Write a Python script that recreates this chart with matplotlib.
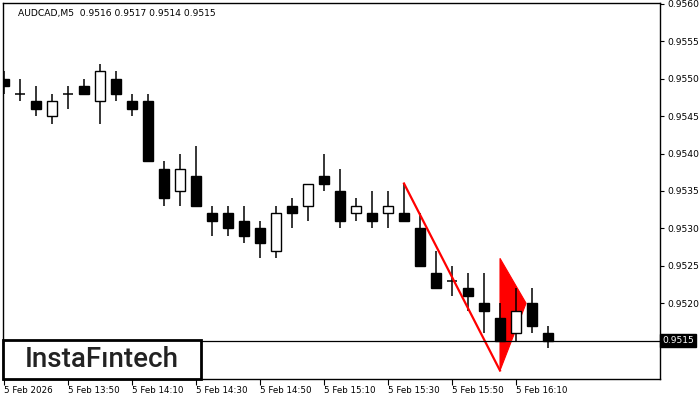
import matplotlib
matplotlib.use('Agg')
import matplotlib.pyplot as plt
from matplotlib.patches import Rectangle, Polygon

# AUDCAD M5 candles, 5 Feb 13:30 .. 16:20
opens = [0.9550, 0.9548, 0.9547, 0.9545, 0.9548, 0.9549, 0.9547, 0.9550, 0.9547, 0.9547,
         0.9538, 0.9535, 0.9537, 0.9532, 0.9532, 0.9531, 0.9530, 0.9527, 0.9533, 0.9533,
         0.9537, 0.9535, 0.9532, 0.9532, 0.9532, 0.9532, 0.9530, 0.9524, 0.9523, 0.9522,
         0.9520, 0.9518, 0.9516, 0.9520, 0.9516]
highs = [0.9551, 0.9550, 0.9549, 0.9548, 0.9549, 0.9550, 0.9552, 0.9551, 0.9548, 0.9548,
         0.9539, 0.9540, 0.9541, 0.9533, 0.9533, 0.9533, 0.9531, 0.9533, 0.9534, 0.9536,
         0.9540, 0.9538, 0.9534, 0.9535, 0.9535, 0.9536, 0.9532, 0.9527, 0.9525, 0.9524,
         0.9524, 0.9520, 0.9522, 0.9522, 0.9517]
lows = [0.9548, 0.9547, 0.9545, 0.9544, 0.9546, 0.9548, 0.9544, 0.9547, 0.9545, 0.9539,
        0.9533, 0.9533, 0.9533, 0.9529, 0.9529, 0.9528, 0.9526, 0.9526, 0.9530, 0.9531,
        0.9535, 0.9530, 0.9531, 0.9530, 0.9530, 0.9531, 0.9525, 0.9522, 0.9521, 0.9519,
        0.9516, 0.9515, 0.9515, 0.9516, 0.9514]
closes = [0.9549, 0.9548, 0.9546, 0.9547, 0.9548, 0.9548, 0.9551, 0.9548, 0.9546, 0.9539,
          0.9534, 0.9538, 0.9533, 0.9531, 0.9530, 0.9529, 0.9528, 0.9532, 0.9532, 0.9536,
          0.9536, 0.9531, 0.9533, 0.9531, 0.9533, 0.9531, 0.9525, 0.9522, 0.9523, 0.9521,
          0.9519, 0.9515, 0.9519, 0.9517, 0.9515]

tick_idx = [0, 4, 8, 12, 16, 20, 24, 28, 32]
tick_labels = ['5 Feb 2026', '5 Feb 13:50', '5 Feb 14:10', '5 Feb 14:30', '5 Feb 14:50',
               '5 Feb 15:10', '5 Feb 15:30', '5 Feb 15:50', '5 Feb 16:10']
price_ticks = [0.9515, 0.9520, 0.9525, 0.9530, 0.9535, 0.9540, 0.9545, 0.9550, 0.9555, 0.9560]

# bearish pennant: pole and flag (bar index, price)
pole_x = [25, 31]
pole_y = [0.9536, 0.9511]
flag_x = [31, 31, 32.63]
flag_y = [0.9526, 0.9511, 0.9520]

last_price = 0.9515
title = 'AUDCAD,M5  0.9516 0.9517 0.9514 0.9515'

fig = plt.figure(figsize=(7, 4), dpi=100)
ax = fig.add_axes([3 / 700, 1 - 379 / 400, 657 / 700, 376 / 400])

# flag triangle behind candles
ax.add_patch(Polygon(list(zip(flag_x, flag_y)), closed=True, facecolor='#ff0000',
                     edgecolor='#ff0000', lw=0.8, zorder=1))

w = 0.66
for i in range(len(opens)):
    o, h, l, c = opens[i], highs[i], lows[i], closes[i]
    ax.vlines(i, l, h, color='black', lw=1.1, zorder=2)
    if o == c:
        ax.hlines(o, i - w / 2, i + w / 2, color='black', lw=1.1, zorder=3)
    else:
        face = 'white' if c > o else 'black'
        ax.add_patch(Rectangle((i - w / 2, min(o, c)), w, abs(c - o), facecolor=face,
                               edgecolor='black', lw=1.0, zorder=3))

ax.plot(pole_x, pole_y, color='#ff0000', lw=1.6, zorder=4)
ax.axhline(last_price, color='black', lw=0.9, zorder=5)

ax.set_xlim(-0.0625, 41.0)
ax.set_ylim(0.950987, 0.956013)

for s in ax.spines.values():
    s.set_linewidth(1.0)

ax.yaxis.tick_right()
ax.set_yticks(price_ticks)
ax.set_yticklabels(['%.4f' % p if p != last_price else '' for p in price_ticks])
ax.tick_params(axis='y', direction='out', length=3, width=0.8, pad=2, labelsize=6.6)
ax.set_xticks(tick_idx)
ax.set_xticklabels(tick_labels, ha='left')
ax.tick_params(axis='x', direction='out', length=4, width=0.8, pad=1, labelsize=6.3)

# last price label box
ax.text(1.003, last_price, '%.4f' % last_price, transform=ax.get_yaxis_transform(),
        ha='left', va='center', fontsize=6.6, color='white', clip_on=False,
        bbox=dict(boxstyle='square,pad=0.25', facecolor='black', edgecolor='black'))

ax.text(0.023, 0.985, title, transform=ax.transAxes, ha='left', va='top',
        fontsize=6.6, color='black')

# logo
ax.add_patch(Rectangle((0, 0), 198 / 657, 39 / 376, transform=ax.transAxes,
                       facecolor='white', edgecolor='black', lw=2.0, zorder=6,
                       clip_on=False))
ax.text(0.150, 0.052, 'InstaF\u0131ntech', transform=ax.transAxes, ha='center',
        va='center', fontsize=20, family='Roboto', fontweight='medium',
        color='#222222', zorder=7)

fig.savefig('out.png', dpi=100)
